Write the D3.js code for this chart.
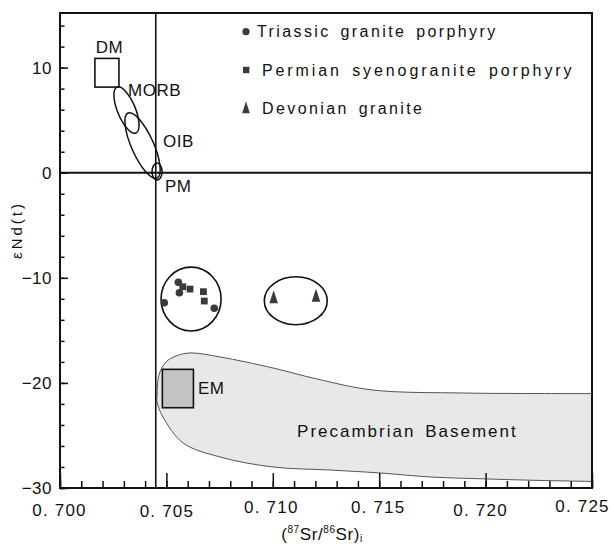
<!DOCTYPE html>
<html>
<head>
<meta charset="utf-8">
<script src="https://cdn.jsdelivr.net/npm/d3@7"></script>
<style>
  body { margin: 0; background: #fff; }
  svg text { font-family: "Liberation Sans", Arial, sans-serif; fill: #111; }
</style>
</head>
<body>
<div id="chart"></div>
<script>
// axis ticks
const xMajorTicks = [0.700, 0.705, 0.710, 0.715, 0.720, 0.725];
const xTickLabels = ["0. 700", "0. 705", "0. 710", "0. 715", "0. 720", "0. 725"];
const yMajorTicks = [-30, -20, -10, 0, 10];
const yTickLabels = ["\u221230", "\u221220", "\u221210", "0", "10"];

// samples
const legendLabels = ["Triassic granite porphyry", "Permian syenogranite porphyry", "Devonian granite"];
const triassicSr = [0.70556, 0.70561, 0.70490, 0.70725];
const triassicNd = [-10.43, -11.42, -12.37, -12.90];
const permianSr = [0.70577, 0.70611, 0.70674, 0.70678];
const permianNd = [-10.85, -11.07, -11.32, -12.21];
const devonianSr = [0.71004, 0.71203];
const devonianNd = [-11.95, -11.80];

// mantle reservoirs: boxes (Sr min/max, Nd min/max)
const boxNames = ["DM", "EM"];
const boxSr = [[0.70164, 0.70277], [0.70481, 0.70627]];
const boxNd = [[8.15, 10.88], [-22.36, -18.71]];

// tilted fields: ends of the long axis (Sr, Nd, Sr, Nd) and width ratio
const fieldNames = ["MORB", "OIB"];
const fieldEnds = [[0.70268, 8.15, 0.70357, 3.78], [0.70320, 5.68, 0.70456, -0.50]];
const fieldRatio = [0.36, 0.31];

// upright ellipses: centre Sr, centre Nd, radius Sr, radius Nd
const ovalNames = ["PM", "Triassic-Permian", "Devonian"];
const ovalCentre = [[0.70456, 0.11], [0.70616, -12.02], [0.71108, -12.18]];
const ovalRadius = [[0.000235, 0.81], [0.00141, 3.04], [0.00148, 2.28]];

// Precambrian basement outline
const basementSr = [0.72650, 0.72256, 0.71894, 0.71471, 0.71208, 0.71001, 0.70752, 0.70611, 0.70545, 0.70498,
  0.70465, 0.70456, 0.70456, 0.70484, 0.70578, 0.70752, 0.71001, 0.71269, 0.71504, 0.71739, 0.72007, 0.72256, 0.72650];
const basementNd = [-21.01, -21.01, -20.96, -20.68, -19.63, -18.58, -17.53, -17.15, -17.44, -18.01,
  -19.25, -21.15, -21.82, -23.24, -25.71, -27.05, -28.00, -28.29, -28.57, -28.95, -29.14, -29.28, -29.43];

// annotation anchors (Sr, Nd of text start)
const noteText = ["DM", "MORB", "OIB", "PM", "EM", "Precambrian Basement"];
const noteSr = [0.70168, 0.70320, 0.70484, 0.70493, 0.70648, 0.71114];
const noteNd = [11.36, 7.33, 2.47, -1.81, -21.06, -25.10];

// bulk earth reference lines
const bulkSr = 0.7045;
const bulkNd = 0;

const W = 614, H = 544;
const m = {left: 60, right: 592, top: 13, bottom: 488};

const x = d3.scaleLinear().domain([0.700, 0.725]).range([m.left, m.right]);
const y = d3.scaleLinear().domain([-30, 15.2]).range([m.bottom, m.top]);

const svg = d3.select("#chart").append("svg")
    .attr("width", W)
    .attr("height", H);

svg.append("defs").append("clipPath").attr("id", "plot")
  .append("rect")
    .attr("x", m.left).attr("y", m.top)
    .attr("width", m.right - m.left).attr("height", m.bottom - m.top);

const plot = svg.append("g").attr("clip-path", "url(#plot)");

// basement field
const basement = basementSr.map((d, i) => [x(d), y(basementNd[i])]);
plot.append("path")
    .attr("d", d3.line().curve(d3.curveCatmullRom.alpha(0.5))(basement) + "Z")
    .attr("fill", "#e8e8e8")
    .attr("stroke", "#555")
    .attr("stroke-width", 1);

// reference lines
plot.append("line")
    .attr("x1", x(bulkSr)).attr("x2", x(bulkSr))
    .attr("y1", m.top).attr("y2", m.bottom)
    .attr("stroke", "#111").attr("stroke-width", 1.6);
plot.append("line")
    .attr("x1", m.left).attr("x2", m.right)
    .attr("y1", y(bulkNd)).attr("y2", y(bulkNd))
    .attr("stroke", "#111").attr("stroke-width", 1.8);

// reservoir boxes
boxNames.forEach((name, i) => {
  plot.append("rect")
      .attr("x", x(boxSr[i][0]))
      .attr("y", y(boxNd[i][1]))
      .attr("width", x(boxSr[i][1]) - x(boxSr[i][0]))
      .attr("height", y(boxNd[i][0]) - y(boxNd[i][1]))
      .attr("fill", name === "EM" ? "#c3c3c3" : "none")
      .attr("stroke", "#111")
      .attr("stroke-width", 1.6);
});

// tilted fields
fieldNames.forEach((name, i) => {
  const e = fieldEnds[i];
  const x1 = x(e[0]), y1 = y(e[1]), x2 = x(e[2]), y2 = y(e[3]);
  const a = Math.hypot(x2 - x1, y2 - y1) / 2;
  const ang = Math.atan2(y2 - y1, x2 - x1) * 180 / Math.PI;
  plot.append("ellipse")
      .attr("transform", `translate(${(x1 + x2) / 2},${(y1 + y2) / 2}) rotate(${ang})`)
      .attr("rx", a)
      .attr("ry", a * fieldRatio[i])
      .attr("fill", "none")
      .attr("stroke", "#111")
      .attr("stroke-width", 1.5);
});

// upright ellipses
ovalNames.forEach((name, i) => {
  const c = ovalCentre[i], r = ovalRadius[i];
  plot.append("ellipse")
      .attr("cx", x(c[0]))
      .attr("cy", y(c[1]))
      .attr("rx", x(c[0] + r[0]) - x(c[0]))
      .attr("ry", y(c[1] - r[1]) - y(c[1]))
      .attr("fill", "none")
      .attr("stroke", "#111")
      .attr("stroke-width", 1.6);
});

// symbols
const markFill = "#3a3a3a";
const triangle = "M0,-8L4.3,5L-4.3,5Z";

plot.selectAll(".tri-circle")
  .data(triassicSr)
  .join("circle")
    .attr("cx", d => x(d))
    .attr("cy", (d, i) => y(triassicNd[i]))
    .attr("r", 3.8)
    .attr("fill", markFill);

plot.selectAll(".perm-square")
  .data(permianSr)
  .join("rect")
    .attr("x", d => x(d) - 3.4)
    .attr("y", (d, i) => y(permianNd[i]) - 3.4)
    .attr("width", 6.8)
    .attr("height", 6.8)
    .attr("fill", markFill);

plot.selectAll(".dev-tri")
  .data(devonianSr)
  .join("path")
    .attr("transform", (d, i) => `translate(${x(d)},${y(devonianNd[i])})`)
    .attr("d", triangle)
    .attr("fill", markFill);

// annotations
noteText.forEach((t, i) => {
  svg.append("text")
      .attr("x", x(noteSr[i]))
      .attr("y", y(noteNd[i]))
      .attr("font-size", 17)
      .attr("letter-spacing", i === 5 ? 2 : 0.5)
      .attr("word-spacing", i === 5 ? 3 : 0)
      .text(t);
});

// legend
const legend = svg.append("g");
legendLabels.forEach((t, i) => {
  const ly = 31.7 + i * 38.3;
  if (i === 0) legend.append("circle").attr("cx", 246).attr("cy", ly).attr("r", 3.6).attr("fill", markFill);
  if (i === 1) legend.append("rect").attr("x", 243).attr("y", ly - 3.2).attr("width", 6.4).attr("height", 6.4).attr("fill", markFill);
  if (i === 2) legend.append("path").attr("transform", `translate(246,${ly})`).attr("d", "M0,-7L3.8,5L-3.8,5Z").attr("fill", markFill);
  legend.append("text")
      .attr("x", i === 0 ? 257 : 262)
      .attr("y", ly + 5.5)
      .attr("font-size", 16)
      .attr("letter-spacing", i === 1 ? 2.9 : 2.4)
      .attr("word-spacing", 3)
      .text(t);
});

// x axis: minor then major ticks
const xMinor = d3.range(0, 26).map(i => 0.700 + i * 0.001);
const gxMinor = svg.append("g")
    .attr("transform", `translate(0,${m.bottom})`)
    .call(d3.axisBottom(x).tickValues(xMinor).tickSize(-7).tickFormat(""));
gxMinor.select(".domain").remove();

// label nudges [dx, baseline below axis]
const xLabelNudge = [[-1, 28], [0, 29], [-2, 25], [-1.5, 25], [-5.5, 28], [-10, 24]];
const gx = svg.append("g")
    .attr("transform", `translate(0,${m.bottom})`)
    .call(d3.axisBottom(x).tickValues(xMajorTicks).tickSize(-15)
      .tickFormat((d, i) => xTickLabels[i]));
gx.select(".domain").remove();
gx.selectAll(".tick text")
    .attr("dy", null)
    .attr("x", (d, i) => xLabelNudge[i][0])
    .attr("y", (d, i) => xLabelNudge[i][1])
    .attr("font-size", 17)
    .attr("letter-spacing", 1.2)
    .attr("fill", "#111");

// y axis: minor then major ticks
const yMinor = d3.range(-30, 15, 2);
const gyMinor = svg.append("g")
    .attr("transform", `translate(${m.left},0)`)
    .call(d3.axisLeft(y).tickValues(yMinor).tickSize(-4.5).tickFormat(""));
gyMinor.select(".domain").remove();

const gy = svg.append("g")
    .attr("transform", `translate(${m.left},0)`)
    .call(d3.axisLeft(y).tickValues(yMajorTicks).tickSize(-8).tickPadding(8)
      .tickFormat((d, i) => yTickLabels[i]));
gy.select(".domain").remove();
gy.selectAll(".tick text")
    .attr("font-size", 17)
    .attr("letter-spacing", 0.5)
    .attr("fill", "#111");

svg.selectAll(".tick line").attr("stroke", "#111").attr("stroke-width", 1.5);

// frame
svg.append("rect")
    .attr("x", m.left).attr("y", m.top)
    .attr("width", m.right - m.left).attr("height", m.bottom - m.top)
    .attr("fill", "none")
    .attr("stroke", "#111")
    .attr("stroke-width", 2);

// axis titles
svg.append("text")
    .attr("transform", "translate(22,230) rotate(-90)")
    .attr("text-anchor", "middle")
    .attr("font-size", 15)
    .attr("letter-spacing", 3)
    .text("\u03b5Nd(t)");

const xt = svg.append("text")
    .attr("x", 322)
    .attr("y", 540)
    .attr("text-anchor", "middle")
    .attr("font-size", 17)
    .attr("letter-spacing", 0.6);
xt.append("tspan").text("(");
xt.append("tspan").attr("font-size", 10).attr("dy", -7).text("87");
xt.append("tspan").attr("dy", 7).text("Sr/");
xt.append("tspan").attr("font-size", 10).attr("dy", -7).text("86");
xt.append("tspan").attr("dy", 7).text("Sr)");
xt.append("tspan").attr("font-size", 10).attr("dy", 2).text("i");
</script>
</body>
</html>
